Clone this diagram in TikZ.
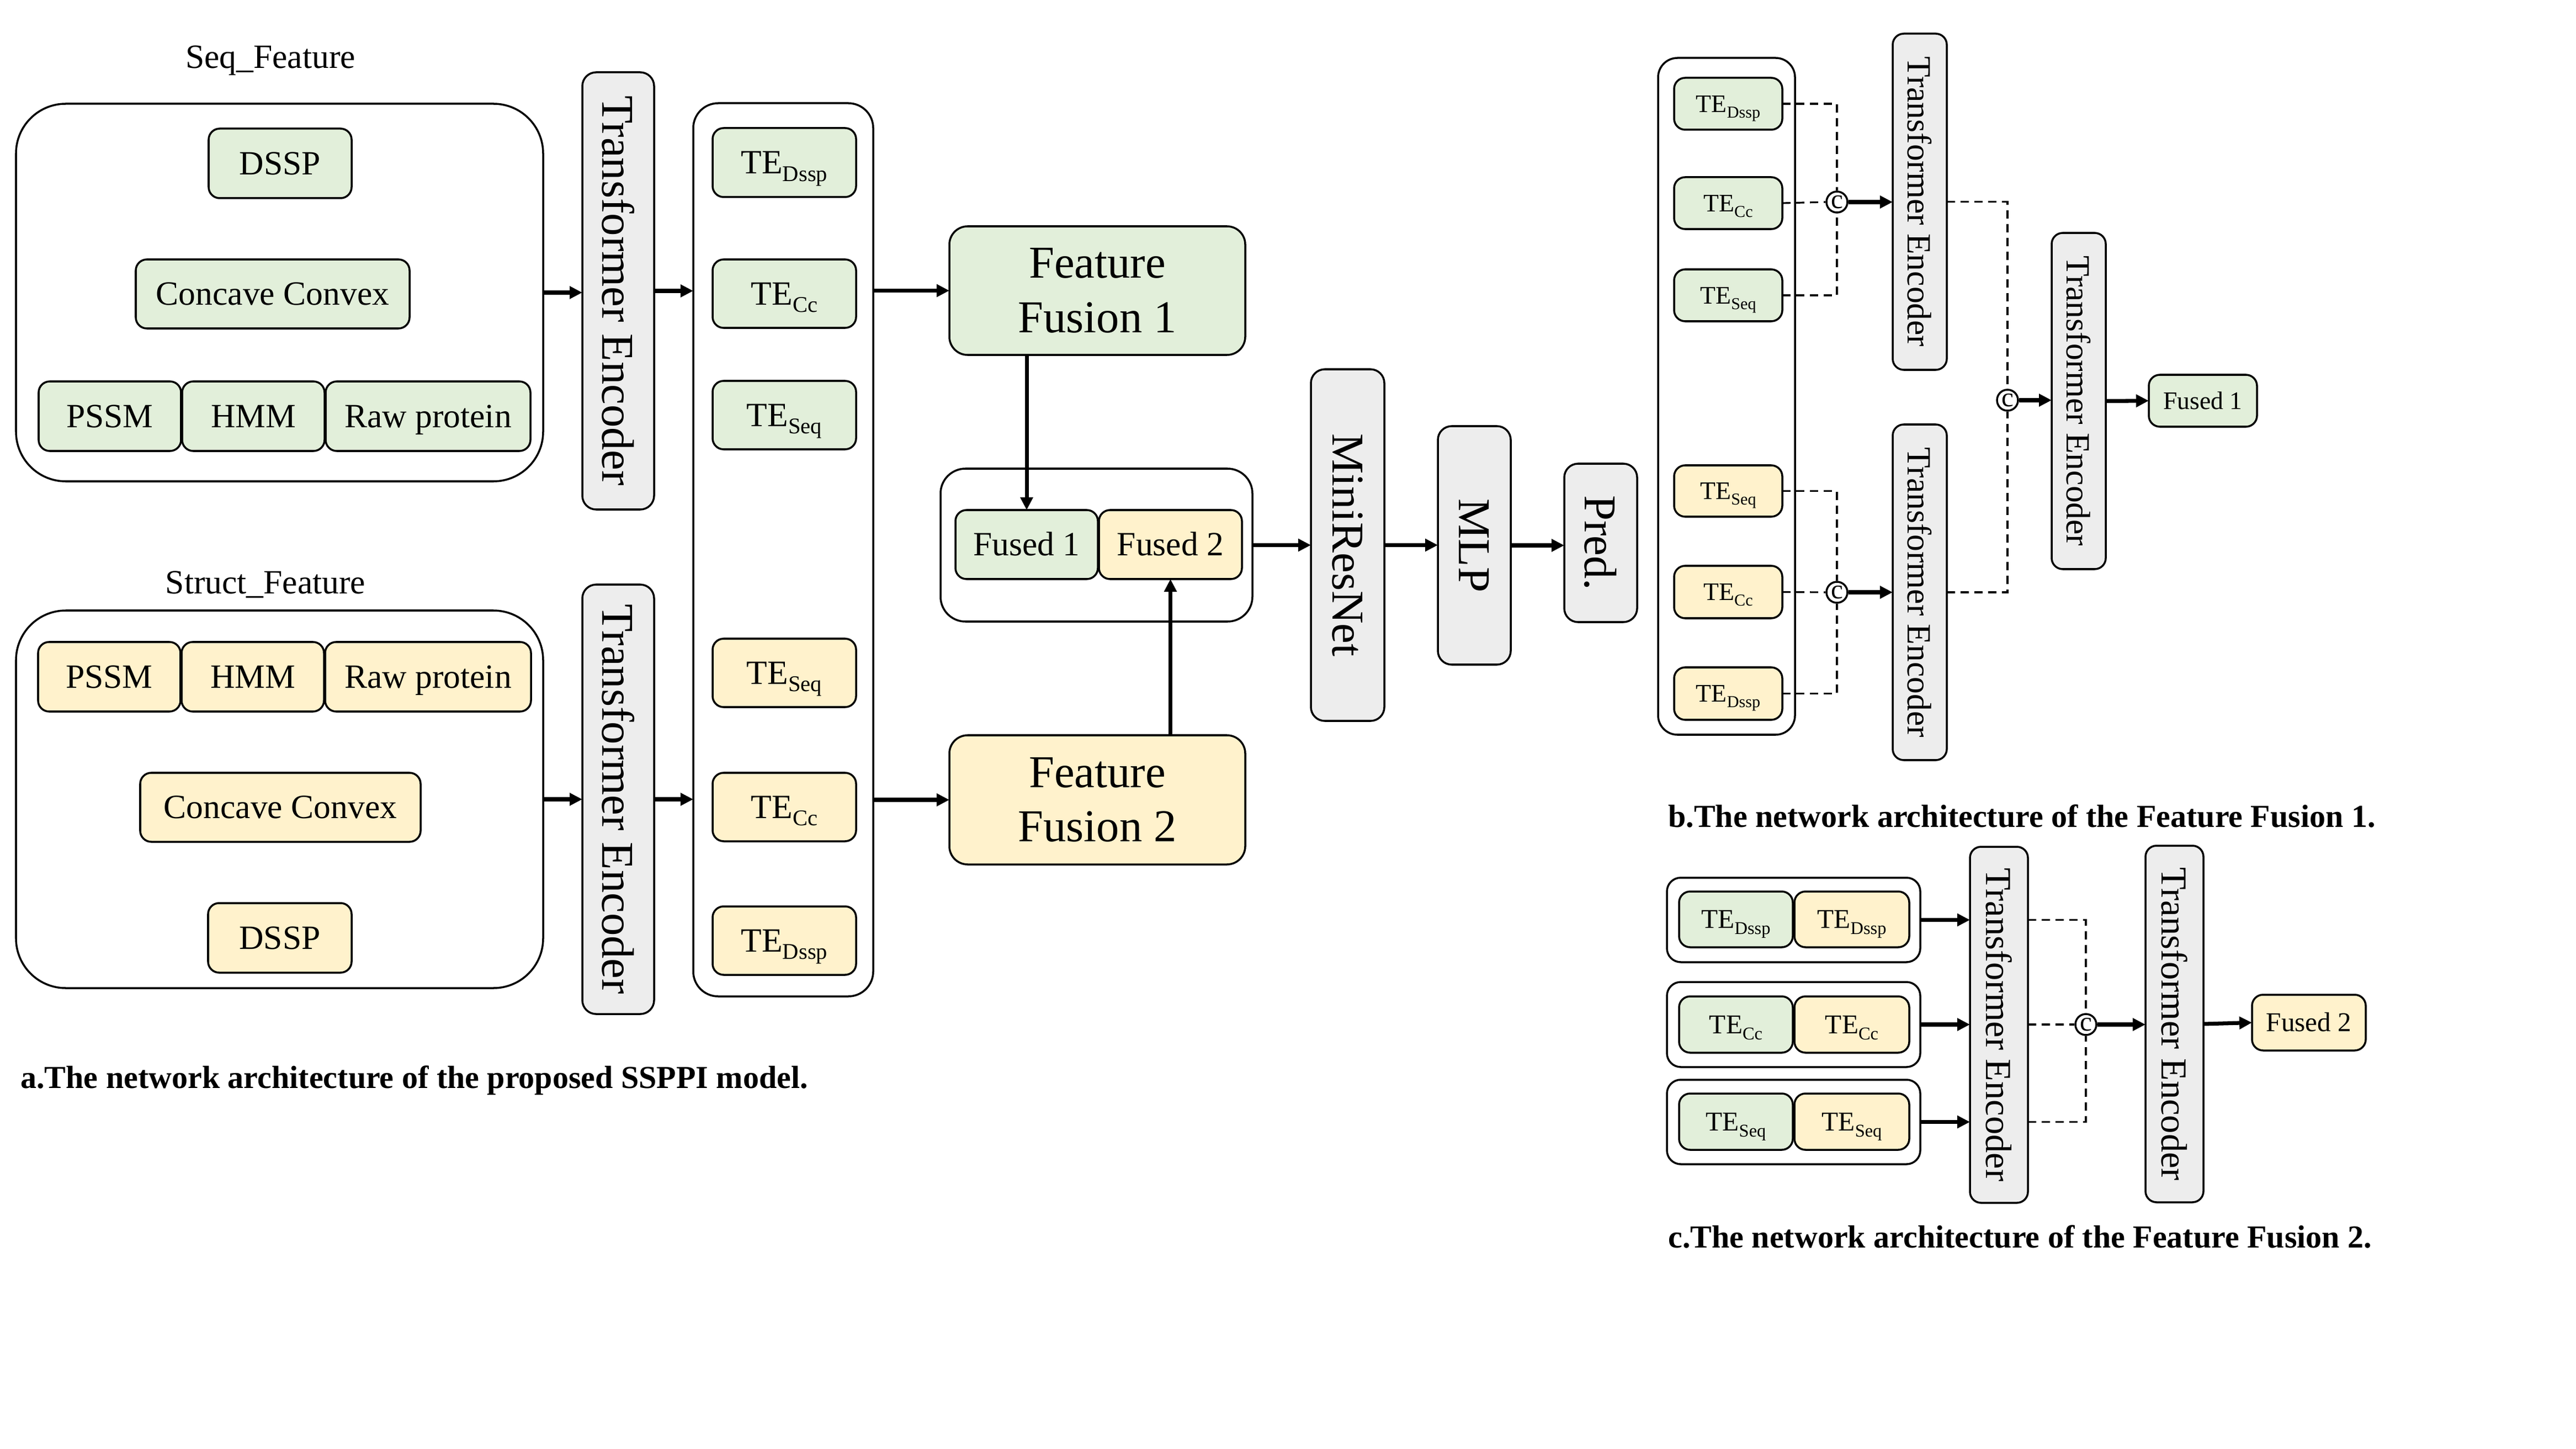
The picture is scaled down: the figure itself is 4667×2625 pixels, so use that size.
\documentclass[tikz,border=0pt]{standalone}
\usepackage{fontspec}
\setmainfont{Liberation Serif}
\usepackage{graphicx}
\usetikzlibrary{arrows.meta,calc}
\definecolor{grn}{RGB}{226,239,218}
\definecolor{ylw}{RGB}{255,242,204}
\definecolor{gry}{RGB}{237,237,237}
\newcommand\tsub[1]{\raisebox{-0.22em}{\scalebox{0.66}{#1}}}
\newcommand\bx[7]{\node[#6, minimum width={(#4-#2)*0.01cm}, minimum height={(#5-#3)*0.01cm}] (#1) at ({(#2+#4)/2},{(#3+#5)/2}) {#7};}
\newcommand\rt[1]{\rotatebox{-90}{#1}}
\tikzset{
  base/.style={draw, line width=1.0pt, inner sep=0pt, outer sep=0pt, align=center, rounded corners=0.2cm},
  gb/.style={base, fill=grn},
  yb/.style={base, fill=ylw},
  kb/.style={base, fill=gry, rounded corners=0.25cm},
  wb/.style={base, fill=white},
  fa/.style={font=\fontsize{17.5}{21}\selectfont, text height=11.6pt, text depth=0pt},
  fbig/.style={font=\fontsize{23.5}{28}\selectfont},
  fb/.style={font=\fontsize{13}{15}\selectfont, text height=8.6pt, text depth=0pt},
  fc/.style={font=\fontsize{14}{16}\selectfont, text height=9.2pt, text depth=0pt},
  rbig/.style={font=\fontsize{23.5}{28}\selectfont},
  rmid/.style={font=\fontsize{17.5}{21}\selectfont},
  rc/.style={font=\fontsize{18.9}{22}\selectfont},
  arr/.style={line width=2pt, -{Triangle[length=0.23cm,width=0.22cm]}},
  dsh/.style={line width=0.9pt, dash pattern=on 0.15cm off 0.1cm},
  cat/.style={circle, draw, line width=1pt, fill=white, minimum size=0.38cm, inner sep=0pt, font=\fontsize{14}{14}\selectfont},
  captxt/.style={anchor=base west, font=\bfseries\fontsize{16.5}{20}\selectfont}
}
\begin{document}
\begin{tikzpicture}[x=0.01cm,y=-0.01cm]
\fill[white] (0,0) rectangle (4667,2625);
\useasboundingbox (0,0) rectangle (4667,2625);

% ---------------- panel a ----------------
\node[fa] (seqlab) at (490,103) {Seq\_Feature};
\bx{seq}{29}{188}{984}{872}{wb,rounded corners=0.9cm}{}
\bx{sDSSP}{378}{233}{637}{359}{gb,fa}{DSSP}
\bx{sCC}{246}{470}{742}{595}{gb,fa}{Concave Convex}
\bx{sPSSM}{70}{691}{328}{817}{gb,fa}{PSSM}
\bx{sHMM}{330}{691}{588}{817}{gb,fa}{HMM}
\bx{sRaw}{590}{691}{961}{817}{gb,fa}{Raw protein}

\node[fa] (stlab) at (481,1055) {Struct\_Feature};
\bx{st}{29}{1106}{984}{1790}{wb,rounded corners=0.9cm}{}
\bx{tPSSM}{69}{1163}{327}{1289}{yb,fa}{PSSM}
\bx{tHMM}{329}{1163}{587}{1289}{yb,fa}{HMM}
\bx{tRaw}{589}{1163}{962}{1289}{yb,fa}{Raw protein}
\bx{tCC}{254}{1400}{762}{1525}{yb,fa}{Concave Convex}
\bx{tDSSP}{377}{1636}{637}{1762}{yb,fa}{DSSP}

\bx{TEa}{1055}{131}{1185}{923}{kb,rbig}{\rt{Transformer Encoder}}
\bx{TEb}{1055}{1059}{1185}{1837}{kb,rbig}{\rt{Transformer Encoder}}

\bx{col}{1256}{187}{1582}{1805}{wb,rounded corners=0.45cm}{}
\bx{cgD}{1291}{232}{1551}{357}{gb,fa}{TE\tsub{Dssp}}
\bx{cgC}{1291}{470}{1551}{594}{gb,fa}{TE\tsub{Cc}}
\bx{cgS}{1291}{690}{1551}{814}{gb,fa}{TE\tsub{Seq}}
\bx{cyS}{1291}{1157}{1551}{1281}{yb,fa}{TE\tsub{Seq}}
\bx{cyC}{1291}{1400}{1551}{1524}{yb,fa}{TE\tsub{Cc}}
\bx{cyD}{1291}{1642}{1551}{1766}{yb,fa}{TE\tsub{Dssp}}

\bx{FF1}{1720}{410}{2256}{643}{gb,fbig,rounded corners=0.33cm}{Feature\\Fusion 1}
\bx{FF2}{1720}{1332}{2256}{1566}{yb,fbig,rounded corners=0.33cm}{Feature\\Fusion 2}
\bx{fbox}{1704}{849}{2269}{1126}{wb,rounded corners=0.45cm}{}
\bx{fu1}{1731}{924}{1989}{1049}{gb,fa}{Fused 1}
\bx{fu2}{1991}{924}{2250}{1049}{yb,fa}{Fused 2}

\bx{mrn}{2375}{669}{2508}{1306}{kb,rbig}{\rt{MiniResNet}}
\bx{mlp}{2605}{772}{2737}{1204}{kb,rbig}{\rt{MLP}}
\bx{pred}{2834}{840}{2966}{1127}{kb,rbig}{\rt{Pred.}}

\draw[arr] (seq.east) -- (seq.east -| TEa.west);
\draw[arr] (st.east) -- (st.east -| TEb.west);
\draw[arr] (TEa.east) -- (TEa.east -| col.west);
\draw[arr] (TEb.east) -- (TEb.east -| col.west);
\draw[arr] (col.east |- FF1.west) -- (FF1.west);
\draw[arr] (col.east |- FF2.west) -- (FF2.west);
\draw[arr] (fu1.north |- FF1.south) -- (fu1.north);
\draw[arr] (fu2.south |- FF2.north) -- (fu2.south);
\draw[arr] (fbox.east) -- (fbox.east -| mrn.west);
\draw[arr] (mrn.east) -- (mrn.east -| mlp.west);
\draw[arr] (mlp.east) -- (mlp.east -| pred.west);

\node[captxt] (capa) at (25,1971) {a.The network architecture of the proposed SSPPI model.};

% ---------------- panel b ----------------
\bx{bout}{3004}{105}{3252}{1331}{wb,rounded corners=0.35cm}{}
\bx{bgD}{3033}{141}{3229}{235}{gb,fb}{TE\tsub{Dssp}}
\bx{bgC}{3033}{321}{3229}{415}{gb,fb}{TE\tsub{Cc}}
\bx{bgS}{3033}{488}{3229}{582}{gb,fb}{TE\tsub{Seq}}
\bx{byS}{3033}{843}{3229}{936}{yb,fb}{TE\tsub{Seq}}
\bx{byC}{3033}{1025}{3229}{1120}{yb,fb}{TE\tsub{Cc}}
\bx{byD}{3033}{1209}{3229}{1304}{yb,fb}{TE\tsub{Dssp}}
\bx{TEb1}{3429}{61}{3527}{670}{kb,rmid,rounded corners=0.2cm}{\rt{Transformer Encoder}}
\bx{TEb2}{3429}{769}{3527}{1377}{kb,rmid,rounded corners=0.2cm}{\rt{Transformer Encoder}}
\bx{TEb3}{3717}{422}{3815}{1031}{kb,rmid,rounded corners=0.2cm}{\rt{Transformer Encoder}}
\bx{Fb1}{3893}{679}{4089}{773}{gb,fb}{Fused 1}
\node[cat] (c1) at (3328,366) {c};
\node[cat] (c2) at (3328,1073) {c};
\node[cat] (c3) at (3637,725) {c};

\draw[dsh] (bgD.east) -| (c1.north);
\draw[dsh] (bgC.east) -- (c1.west);
\draw[dsh] (bgS.east) -| (c1.south);
\draw[dsh] (byS.east) -| (c2.north);
\draw[dsh] (byC.east) -- (c2.west);
\draw[dsh] (byD.east) -| (c2.south);
\draw[arr] (c1.east) -- (c1.east -| TEb1.west);
\draw[arr] (c2.east) -- (c2.east -| TEb2.west);
\draw[dsh] (TEb1.east) -| (c3.north);
\draw[dsh] (TEb2.east) -| (c3.south);
\draw[arr] (c3.east) -- (c3.east -| TEb3.west);
\draw[arr] (TEb3.east) -- (Fb1.west);

\node[captxt] (capb) at (3010,1498) {b.The network architecture of the Feature Fusion 1.};

% ---------------- panel c ----------------
\bx{g1}{3020}{1590}{3479}{1743}{wb,rounded corners=0.25cm}{}
\bx{g2}{3020}{1779}{3479}{1933}{wb,rounded corners=0.25cm}{}
\bx{g3}{3020}{1956}{3479}{2109}{wb,rounded corners=0.25cm}{}
\bx{g1a}{3042}{1615}{3248}{1716}{gb,fc}{TE\tsub{Dssp}}
\bx{g1b}{3251}{1615}{3459}{1716}{yb,fc}{TE\tsub{Dssp}}
\bx{g2a}{3042}{1805}{3248}{1907}{gb,fc}{TE\tsub{Cc}}
\bx{g2b}{3251}{1805}{3459}{1907}{yb,fc}{TE\tsub{Cc}}
\bx{g3a}{3042}{1981}{3248}{2083}{gb,fc}{TE\tsub{Seq}}
\bx{g3b}{3251}{1981}{3459}{2083}{yb,fc}{TE\tsub{Seq}}
\bx{TEc1}{3569}{1534}{3674}{2179}{kb,rc,rounded corners=0.2cm}{\rt{Transformer Encoder}}
\bx{TEc2}{3887}{1532}{3992}{2178}{kb,rc,rounded corners=0.2cm}{\rt{Transformer Encoder}}
\bx{Fc2}{4080}{1802}{4286}{1903}{yb,fc}{Fused 2}
\node[cat] (c4) at (3779,1856) {c};

\draw[arr] (g1.east) -- (g1.east -| TEc1.west);
\draw[arr] (g2.east) -- (g2.east -| TEc1.west);
\draw[arr] (g3.east) -- (g3.east -| TEc1.west);
\draw[dsh] (TEc1.east |- g1.east) -| (c4.north);
\draw[dsh] (TEc1.east |- c4.west) -- (c4.west);
\draw[dsh] (TEc1.east |- g3.east) -| (c4.south);
\draw[arr] (c4.east) -- (c4.east -| TEc2.west);
\draw[arr] (TEc2.east) -- (Fc2.west);

\node[captxt] (capc) at (3010,2260) {c.The network architecture of the Feature Fusion 2.};
\end{tikzpicture}
\end{document}
